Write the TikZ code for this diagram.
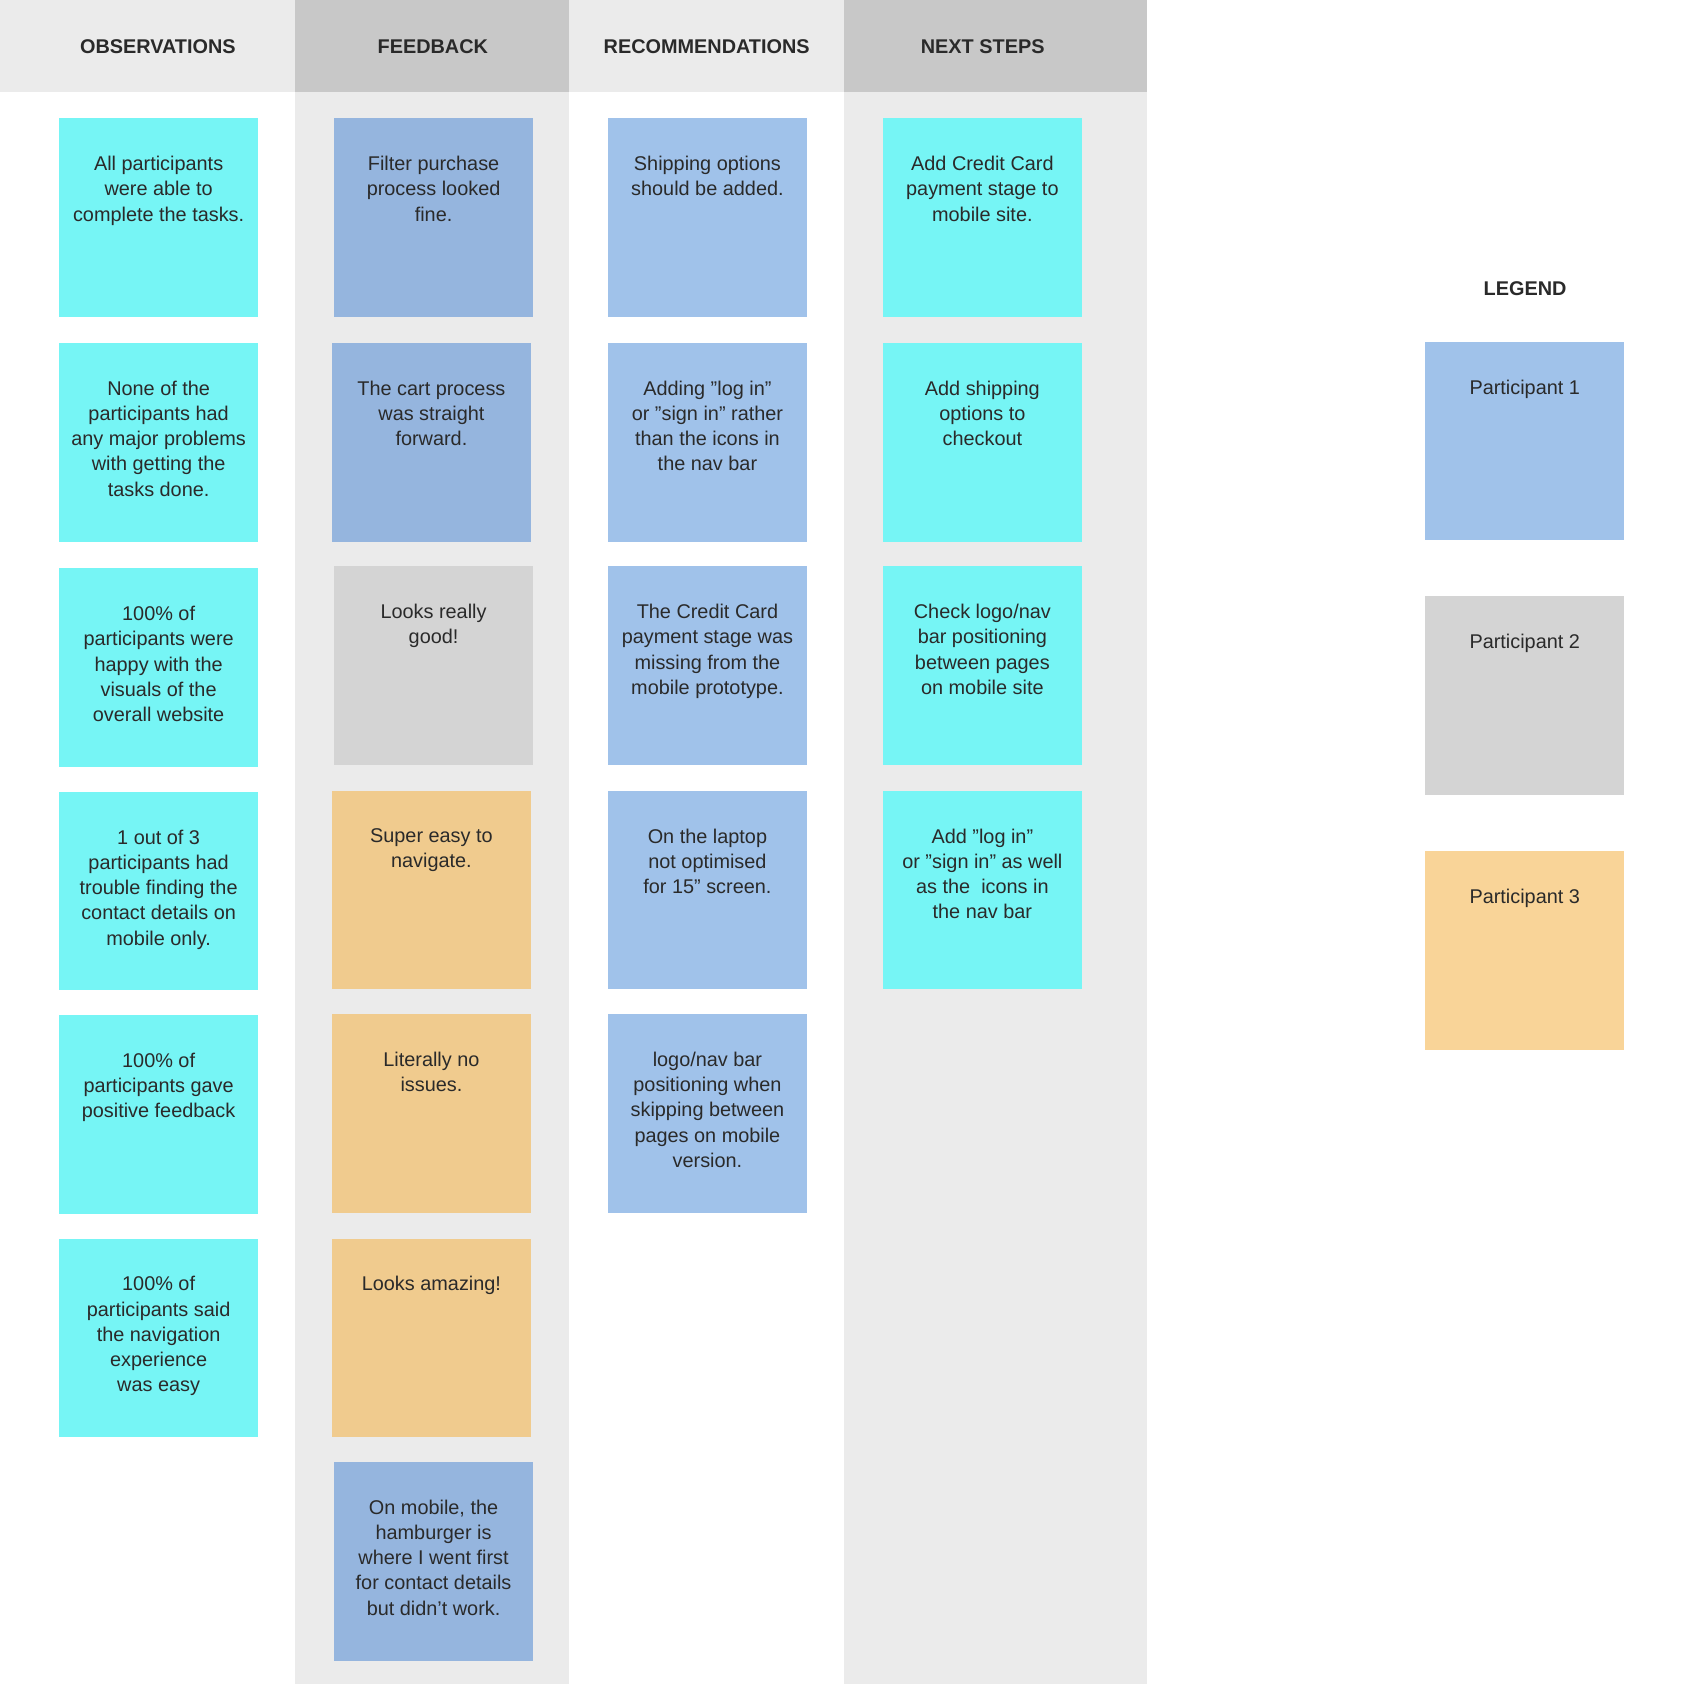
\documentclass[tikz,border=0pt]{standalone}
\usepackage{fontspec}
\setmainfont{Liberation Sans}
\definecolor{cy}{HTML}{76F5F5}
\definecolor{fb}{HTML}{95B5DE}
\definecolor{rb}{HTML}{A0C2EA}
\definecolor{gr}{HTML}{D4D4D4}
\definecolor{orr}{HTML}{F0CB8E}
\definecolor{lo}{HTML}{F9D498}
\definecolor{hl}{HTML}{EBEBEB}
\definecolor{hd}{HTML}{C8C8C8}
\definecolor{tx}{HTML}{2A2A2A}
\begin{document}
\begin{tikzpicture}[x=1pt,y=-1pt,
  note/.style={minimum width=185pt,minimum height=185pt,inner sep=0pt,anchor=north west},
  ntext/.style={anchor=north,align=center,font=\fontsize{18.5}{23.5}\selectfont,text=tx},
  head/.style={font=\bfseries\fontsize{18.5}{22}\selectfont,text=tx}]
\useasboundingbox (0,0) rectangle (1568,1568);
\fill[white] (0,0) rectangle (1568,1568);
\fill[hl] (275,0) rectangle (530,1568);
\fill[hl] (786,0) rectangle (1068,1568);
\fill[hl] (0,0) rectangle (275,86);
\fill[hd] (275,0) rectangle (530,86);
\fill[hl] (530,0) rectangle (786,86);
\fill[hd] (786,0) rectangle (1068,86);
\node[head] (h1) at (147,43) {OBSERVATIONS};
\node[head] (h2) at (403,43) {FEEDBACK};
\node[head] (h3) at (658,43) {RECOMMENDATIONS};
\node[head] (h4) at (915,43) {NEXT STEPS};
\node[head] (lg) at (1420,269) {LEGEND};
% notes: #1 color, x, y, text
\newcommand{\nt}[5]{\node[note,fill=#2] (#1) at (#3,#4) {};
  \node[ntext] at ([yshift=-32pt]#1.north) {#5};}
\nt{o1}{cy}{55}{110}{All participants\\were able to\\complete the tasks.}
\nt{o2}{cy}{55}{319}{None of the\\participants had\\any major problems\\with getting the\\tasks done.}
\nt{o3}{cy}{55}{529}{100\% of\\participants were\\happy with the\\visuals of the\\overall website}
\nt{o4}{cy}{55}{737}{1 out of 3\\participants had\\trouble finding the\\contact details on\\mobile only.}
\nt{o5}{cy}{55}{945}{100\% of\\participants gave\\positive feedback}
\nt{o6}{cy}{55}{1153}{100\% of\\participants said\\the navigation\\experience\\was easy}
\nt{f1}{fb}{311}{110}{Filter purchase\\process looked\\fine.}
\nt{f2}{fb}{309}{319}{The cart process\\was straight\\forward.}
\nt{f3}{gr}{311}{527}{Looks really\\good!}
\nt{f4}{orr}{309}{736}{Super easy to\\navigate.}
\nt{f5}{orr}{309}{944}{Literally no\\issues.}
\nt{f6}{orr}{309}{1153}{Looks amazing!}
\nt{f7}{fb}{311}{1361}{On mobile, the\\hamburger is\\where I went first\\for contact details\\but didn't work.}
\nt{r1}{rb}{566}{110}{Shipping options\\should be added.}
\nt{r2}{rb}{566}{319}{Adding "log in"\\or "sign in" rather\\than the icons in\\the nav bar}
\nt{r3}{rb}{566}{527}{The Credit Card\\payment stage was\\missing from the\\mobile prototype.}
\nt{r4}{rb}{566}{736}{On the laptop\\not optimised\\for 15" screen.}
\nt{r5}{rb}{566}{944}{logo/nav bar\\positioning when\\skipping between\\pages on mobile\\version.}
\nt{n1}{cy}{822}{110}{Add Credit Card\\payment stage to\\mobile site.}
\nt{n2}{cy}{822}{319}{Add shipping\\options to\\checkout}
\nt{n3}{cy}{822}{527}{Check logo/nav\\bar positioning\\between pages\\on mobile site}
\nt{n4}{cy}{822}{736}{Add "log in"\\or "sign in" as well\\as the\ \ icons in\\the nav bar}
\nt{l1}{rb}{1327}{318}{Participant 1}
\nt{l2}{gr}{1327}{555}{Participant 2}
\nt{l3}{lo}{1327}{792}{Participant 3}
\end{tikzpicture}
\end{document}
